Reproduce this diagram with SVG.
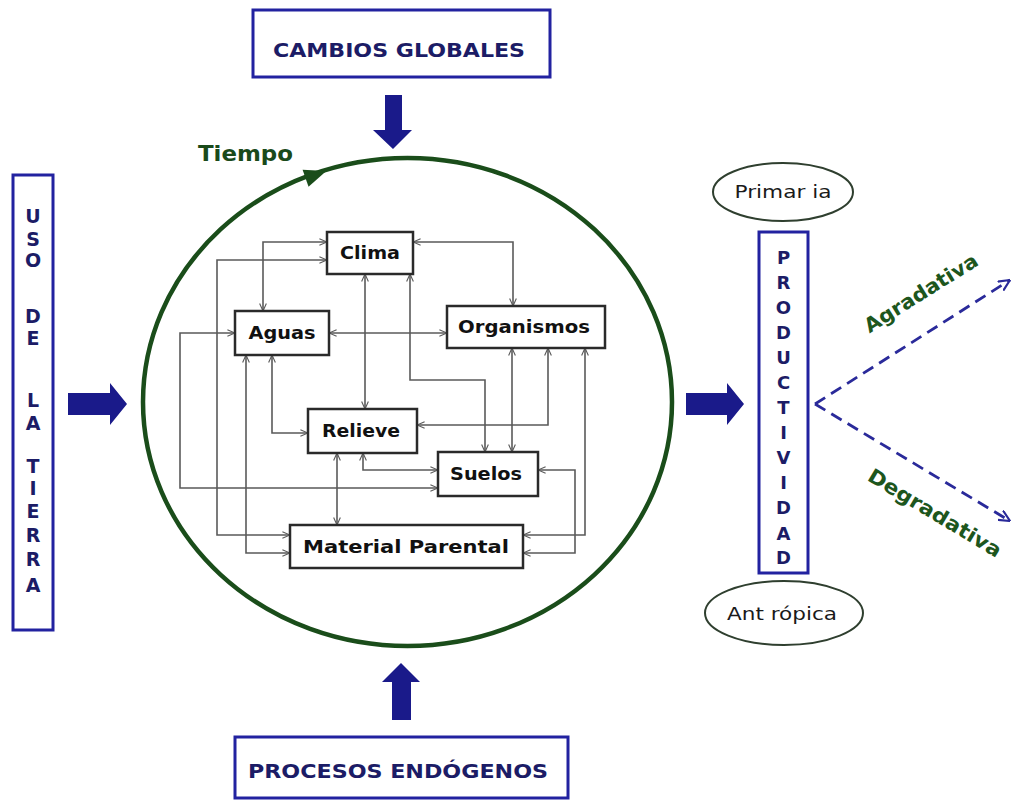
<svg xmlns="http://www.w3.org/2000/svg" width="1012" height="801" viewBox="0 0 1012 801">
<style>
.frame{fill:#fff;stroke:#2222a0;stroke-width:3}
.node rect{fill:#fff;stroke:#2a2a2a;stroke-width:2.5}
.nl{font-family:"DejaVu Sans",sans-serif;font-weight:bold;font-size:18px;fill:#111;text-anchor:middle}
.big{font-family:"DejaVu Sans",sans-serif;font-weight:bold;font-size:19px;fill:#1c1c66;text-anchor:middle}
.vl{font-family:"DejaVu Sans",sans-serif;font-weight:bold;font-size:19px;fill:#1c1c66;text-anchor:middle}
.conn path{fill:none;stroke:#5a5a5a;stroke-width:1.6;marker-start:url(#oa);marker-end:url(#oa)}
.fat{fill:#1a1a8a}
.oval{fill:#fff;stroke:#2f3f2f;stroke-width:2}
.ol{font-family:"DejaVu Sans",sans-serif;font-size:18px;fill:#1a1a1a;text-anchor:middle}
.gl{font-family:"DejaVu Sans",sans-serif;font-size:20px;font-weight:bold;fill:#1d561d;text-anchor:middle}
.dash{fill:none;stroke:#2a2a9a;stroke-width:2.8;stroke-dasharray:12 7}
</style>
<defs>
<marker id="oa" viewBox="0 0 10 10" refX="9.5" refY="5" markerWidth="8" markerHeight="8" markerUnits="userSpaceOnUse" orient="auto-start-reverse">
<path d="M0,0.8 L9.5,5 L0,9.2" fill="none" stroke="#5a5a5a" stroke-width="1.4"/>
</marker>
<marker id="da" viewBox="0 0 10 10" refX="9.5" refY="5" markerWidth="12" markerHeight="12" markerUnits="userSpaceOnUse" orient="auto">
<path d="M0,0.5 L9.5,5 L0,9.5" fill="none" stroke="#2a2a9a" stroke-width="1.8"/>
</marker>
</defs>
<rect width="1012" height="801" fill="#fff"/>

<!-- Time cycle -->
<g id="tiempo">
<ellipse cx="407.5" cy="402" rx="264.5" ry="244" fill="none" stroke="#1a4d1a" stroke-width="4.5"/>
<polygon points="12,0 -10,-9 -10,9" fill="#1a4d1a" transform="translate(315,175) rotate(-19.4)"/>
<text x="198" y="161" textLength="95" lengthAdjust="spacingAndGlyphs" style="font-family:'DejaVu Sans',sans-serif;font-weight:bold;font-size:22px;fill:#1a4a1a">Tiempo</text>
</g>

<!-- Outer boxes -->
<g id="cambios">
<rect class="frame" x="253" y="10" width="297" height="67"/>
<text class="big" x="399" y="57" textLength="252" lengthAdjust="spacingAndGlyphs">CAMBIOS GLOBALES</text>
</g>
<g id="procesos">
<rect class="frame" x="235" y="737" width="333" height="61"/>
<text class="big" x="398" y="778" textLength="300" lengthAdjust="spacingAndGlyphs">PROCESOS ENDÓGENOS</text>
</g>
<g id="uso">
<rect class="frame" x="13" y="175" width="40" height="455"/>
<text class="vl" x="33" y="223">U</text>
<text class="vl" x="33" y="246">S</text>
<text class="vl" x="33" y="267">O</text>
<text class="vl" x="33" y="323">D</text>
<text class="vl" x="33" y="345">E</text>
<text class="vl" x="33" y="407">L</text>
<text class="vl" x="33" y="430">A</text>
<text class="vl" x="33" y="473">T</text>
<text class="vl" x="33" y="495">I</text>
<text class="vl" x="33" y="518">E</text>
<text class="vl" x="33" y="542">R</text>
<text class="vl" x="33" y="566">R</text>
<text class="vl" x="33" y="592">A</text>
</g>
<g id="productividad" style="font-size:18px">
<rect class="frame" x="759" y="232" width="49" height="341"/>
<text class="vl" x="783.5" y="264" style="font-size:18px">P</text>
<text class="vl" x="783.5" y="289" style="font-size:18px">R</text>
<text class="vl" x="783.5" y="314" style="font-size:18px">O</text>
<text class="vl" x="783.5" y="339" style="font-size:18px">D</text>
<text class="vl" x="783.5" y="364" style="font-size:18px">U</text>
<text class="vl" x="783.5" y="389" style="font-size:18px">C</text>
<text class="vl" x="783.5" y="414" style="font-size:18px">T</text>
<text class="vl" x="783.5" y="439" style="font-size:18px">I</text>
<text class="vl" x="783.5" y="464" style="font-size:18px">V</text>
<text class="vl" x="783.5" y="489" style="font-size:18px">I</text>
<text class="vl" x="783.5" y="514" style="font-size:18px">D</text>
<text class="vl" x="783.5" y="540" style="font-size:18px">A</text>
<text class="vl" x="783.5" y="564" style="font-size:18px">D</text>
</g>
<g id="primaria">
<ellipse class="oval" cx="783" cy="192" rx="70" ry="29"/>
<text class="ol" x="783" y="198" textLength="97" lengthAdjust="spacingAndGlyphs">Primar ia</text>
</g>
<g id="antropica">
<ellipse class="oval" cx="784" cy="613" rx="79" ry="32"/>
<text class="ol" x="782" y="620" textLength="110" lengthAdjust="spacingAndGlyphs">Ant rópica</text>
</g>

<!-- Fat arrows -->
<g id="flechas">
<polygon class="fat" points="385,95 402,95 402,130 412,130 393,149 373,130 385,130"/>
<polygon class="fat" points="401,663 420,682 411,682 411,720 392,720 392,682 382,682"/>
<polygon class="fat" points="68,393 110,393 110,383 127,404 110,425 110,415 68,415"/>
<polygon class="fat" points="686,393 727,393 727,383 744,404 727,425 727,415 686,415"/>
</g>

<!-- Dashed outcome arrows -->
<g id="tendencias">
<path class="dash" d="M815,404 L1010,280" marker-end="url(#da)"/>
<path class="dash" d="M815,404 L1010,521" marker-end="url(#da)"/>
<text class="gl" transform="translate(921,293) rotate(-32)" x="0" y="7" textLength="130" lengthAdjust="spacingAndGlyphs">Agradativa</text>
<text class="gl" transform="translate(935,513) rotate(31)" x="0" y="7" textLength="152" lengthAdjust="spacingAndGlyphs">Degradativa</text>
</g>

<!-- Connectors -->
<g id="connectors" class="conn">
<path d="M263,311 V242 H327"/>
<path d="M327,260 H217 V535 H290"/>
<path d="M235,333 H180 V488 H438"/>
<path d="M329,333 H447"/>
<path d="M272,355 V433 H308"/>
<path d="M246,355 V553 H290"/>
<path d="M365,274 V409"/>
<path d="M410,274 V380 H485 V452"/>
<path d="M413,242 H513 V306"/>
<path d="M512,348 V452"/>
<path d="M548,348 V425 H417"/>
<path d="M585,348 V535 H523"/>
<path d="M538,470 H575 V553 H523"/>
<path d="M337,453 V525"/>
<path d="M363,453 V470 H438"/>
</g>

<!-- Nodes -->
<g id="clima" class="node"><rect x="327" y="232" width="86" height="42"/><text class="nl" x="370" y="259" textLength="60" lengthAdjust="spacingAndGlyphs">Clima</text></g>
<g id="aguas" class="node"><rect x="235" y="311" width="94" height="44"/><text class="nl" x="282" y="339" textLength="67" lengthAdjust="spacingAndGlyphs">Aguas</text></g>
<g id="organismos" class="node"><rect x="447" y="306" width="158" height="42"/><text class="nl" x="524" y="333" textLength="132" lengthAdjust="spacingAndGlyphs">Organismos</text></g>
<g id="relieve" class="node"><rect x="308" y="409" width="109" height="44"/><text class="nl" x="361" y="437" textLength="78" lengthAdjust="spacingAndGlyphs">Relieve</text></g>
<g id="suelos" class="node"><rect x="438" y="452" width="100" height="44"/><text class="nl" x="486" y="480" textLength="72" lengthAdjust="spacingAndGlyphs">Suelos</text></g>
<g id="material" class="node"><rect x="290" y="525" width="233" height="43"/><text class="nl" x="406" y="553" textLength="206" lengthAdjust="spacingAndGlyphs">Material Parental</text></g>
</svg>
